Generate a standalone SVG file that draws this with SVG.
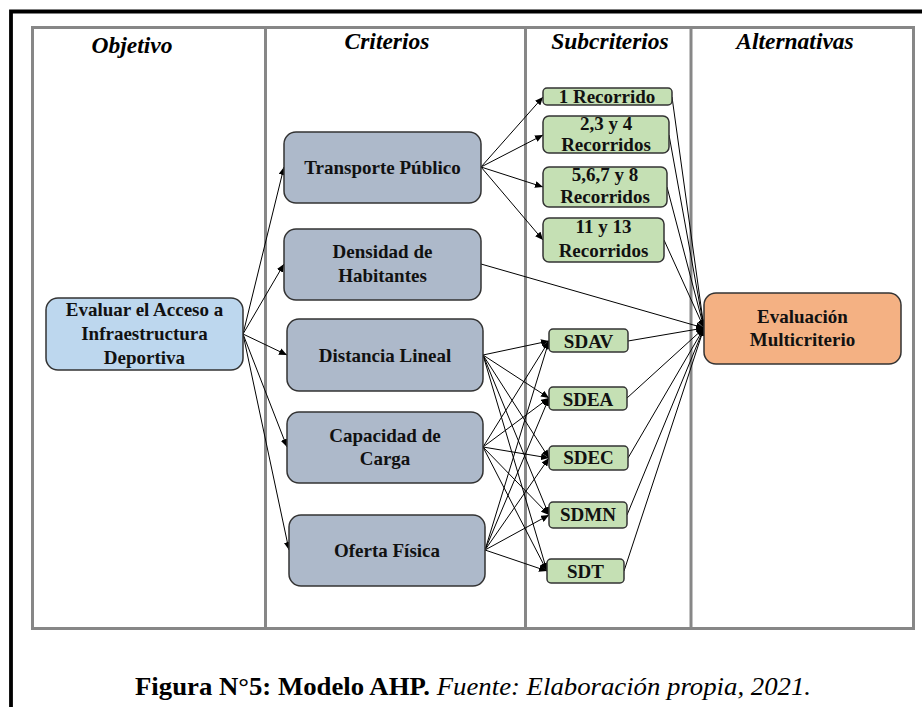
<svg xmlns="http://www.w3.org/2000/svg" width="922" height="707" viewBox="0 0 922 707">
<defs>
<marker id="ah" markerUnits="userSpaceOnUse" markerWidth="9" markerHeight="7" refX="8" refY="3.5" orient="auto">
<path d="M0,0 L8,3.5 L0,7 Z" fill="#000"/>
</marker>
<style>
.grid{fill:none;stroke:#878787;stroke-width:3}
.frame{fill:none;stroke:#000;stroke-width:3.8}
.hdr{font-family:'Liberation Serif','DejaVu Serif',serif;font-weight:bold;font-style:italic;font-size:23.5px;text-anchor:middle;fill:#000}
.lbl{font-family:'Liberation Serif','DejaVu Serif',serif;font-weight:bold;font-size:19px;text-anchor:middle;fill:#111}
.obj{fill:#BDD7EE;stroke:#333;stroke-width:1.5}
.crit{fill:#ADB9CA;stroke:#333;stroke-width:1.5}
.sub{fill:#C5E0B4;stroke:#333;stroke-width:1.5}
.alt{fill:#F4B183;stroke:#333;stroke-width:1.5}
.con line{stroke:#000;stroke-width:1;marker-end:url(#ah)}
.cap{font-family:'Liberation Serif','DejaVu Serif',serif;font-size:25px;fill:#000}
</style>
</defs>
<rect width="922" height="707" fill="#fff"/>
<path class="frame" d="M11,707 L11,11.5 L922,11.5"/>
<g id="grid">
<rect class="grid" x="32.5" y="27.5" width="881" height="601"/>
<line class="grid" x1="265.5" y1="27.5" x2="265.5" y2="628.5"/>
<line class="grid" x1="525.5" y1="27.5" x2="525.5" y2="628.5"/>
<line class="grid" x1="691" y1="27.5" x2="691" y2="628.5"/>
</g>
<g id="headers">
<text class="hdr" x="132" y="53" font-family="Liberation Serif, DejaVu Serif, serif">Objetivo</text>
<text class="hdr" x="387" y="49" font-family="Liberation Serif, DejaVu Serif, serif">Criterios</text>
<text class="hdr" x="610" y="49" font-family="Liberation Serif, DejaVu Serif, serif">Subcriterios</text>
<text class="hdr" x="795" y="49" font-family="Liberation Serif, DejaVu Serif, serif">Alternativas</text>
</g>
<g id="connectors" class="con">
<line x1="243" y1="334" x2="284" y2="167"/>
<line x1="243" y1="334" x2="284" y2="264"/>
<line x1="243" y1="334" x2="287" y2="355"/>
<line x1="243" y1="334" x2="287" y2="447"/>
<line x1="243" y1="334" x2="289" y2="550"/>
<line x1="481" y1="167" x2="543" y2="97"/>
<line x1="481" y1="167" x2="543" y2="135"/>
<line x1="481" y1="167" x2="543" y2="187"/>
<line x1="481" y1="167" x2="543" y2="240"/>
<line x1="481" y1="264" x2="704" y2="328"/>
<line x1="672" y1="97" x2="704" y2="328"/>
<line x1="669" y1="135" x2="704" y2="328"/>
<line x1="667" y1="187" x2="704" y2="328"/>
<line x1="664" y1="240" x2="704" y2="328"/>
<line x1="628" y1="341" x2="704" y2="328"/>
<line x1="627" y1="398" x2="704" y2="328"/>
<line x1="628" y1="458" x2="704" y2="328"/>
<line x1="627" y1="515" x2="704" y2="328"/>
<line x1="624" y1="571" x2="704" y2="328"/>
<line x1="483" y1="355" x2="549" y2="341"/>
<line x1="483" y1="355" x2="549" y2="398"/>
<line x1="483" y1="355" x2="549" y2="458"/>
<line x1="483" y1="355" x2="549" y2="515"/>
<line x1="483" y1="355" x2="547" y2="571"/>
<line x1="483" y1="447" x2="549" y2="341"/>
<line x1="483" y1="447" x2="549" y2="398"/>
<line x1="483" y1="447" x2="549" y2="458"/>
<line x1="483" y1="447" x2="549" y2="515"/>
<line x1="483" y1="447" x2="547" y2="571"/>
<line x1="485" y1="550" x2="549" y2="341"/>
<line x1="485" y1="550" x2="549" y2="398"/>
<line x1="485" y1="550" x2="549" y2="458"/>
<line x1="485" y1="550" x2="549" y2="515"/>
<line x1="485" y1="550" x2="547" y2="571"/>
</g>
<g id="objetivo">
<rect class="obj" x="46" y="298" width="197" height="72" rx="12"/>
<text class="lbl" x="144.5" y="316">Evaluar el Acceso a</text>
<text class="lbl" x="144.5" y="340">Infraestructura</text>
<text class="lbl" x="144.5" y="364">Deportiva</text>
</g>
<g id="transporte">
<rect class="crit" x="284" y="132" width="197" height="71" rx="12"/>
<text class="lbl" x="382.5" y="174">Transporte Público</text>
</g>
<g id="densidad">
<rect class="crit" x="284" y="229" width="197" height="71" rx="12"/>
<text class="lbl" x="382.5" y="258">Densidad de</text>
<text class="lbl" x="382.5" y="282">Habitantes</text>
</g>
<g id="distancia">
<rect class="crit" x="287" y="319" width="196" height="72" rx="12"/>
<text class="lbl" x="385" y="362">Distancia Lineal</text>
</g>
<g id="capacidad">
<rect class="crit" x="287" y="412" width="196" height="71" rx="12"/>
<text class="lbl" x="385" y="442">Capacidad de</text>
<text class="lbl" x="385" y="465">Carga</text>
</g>
<g id="oferta">
<rect class="crit" x="289" y="515" width="196" height="71" rx="12"/>
<text class="lbl" x="387" y="557">Oferta Física</text>
</g>
<g id="rec1">
<rect class="sub" x="543" y="88" width="129" height="17" rx="4"/>
<text class="lbl" x="607" y="103">1 Recorrido</text>
</g>
<g id="rec234">
<rect class="sub" x="543" y="116" width="126" height="37" rx="6"/>
<text class="lbl" x="606" y="130">2,3 y 4</text>
<text class="lbl" x="606" y="151">Recorridos</text>
</g>
<g id="rec5678">
<rect class="sub" x="543" y="167" width="124" height="40" rx="6"/>
<text class="lbl" x="605" y="181">5,6,7 y 8</text>
<text class="lbl" x="605" y="203">Recorridos</text>
</g>
<g id="rec1113">
<rect class="sub" x="543" y="218" width="121" height="44" rx="6"/>
<text class="lbl" x="603.5" y="233">11 y 13</text>
<text class="lbl" x="603.5" y="257">Recorridos</text>
</g>
<g id="sdav">
<rect class="sub" x="549" y="329" width="79" height="23" rx="4"/>
<text class="lbl" x="588.5" y="348">SDAV</text>
</g>
<g id="sdea">
<rect class="sub" x="549" y="387" width="78" height="23" rx="4"/>
<text class="lbl" x="588" y="406">SDEA</text>
</g>
<g id="sdec">
<rect class="sub" x="549" y="446" width="79" height="24" rx="4"/>
<text class="lbl" x="588.5" y="464">SDEC</text>
</g>
<g id="sdmn">
<rect class="sub" x="549" y="502" width="78" height="26" rx="4"/>
<text class="lbl" x="588" y="521">SDMN</text>
</g>
<g id="sdt">
<rect class="sub" x="547" y="559" width="77" height="24" rx="4"/>
<text class="lbl" x="585.5" y="578">SDT</text>
</g>
<g id="evaluacion">
<rect class="alt" x="704" y="293" width="197" height="71" rx="12"/>
<text class="lbl" x="802.5" y="323">Evaluación</text>
<text class="lbl" x="802.5" y="346">Multicriterio</text>
</g>
<text class="cap" x="135" y="695" textLength="676" lengthAdjust="spacingAndGlyphs"><tspan font-weight="bold">Figura N°5: Modelo AHP.</tspan><tspan font-style="italic"> Fuente: Elaboración propia, 2021.</tspan></text>
</svg>
